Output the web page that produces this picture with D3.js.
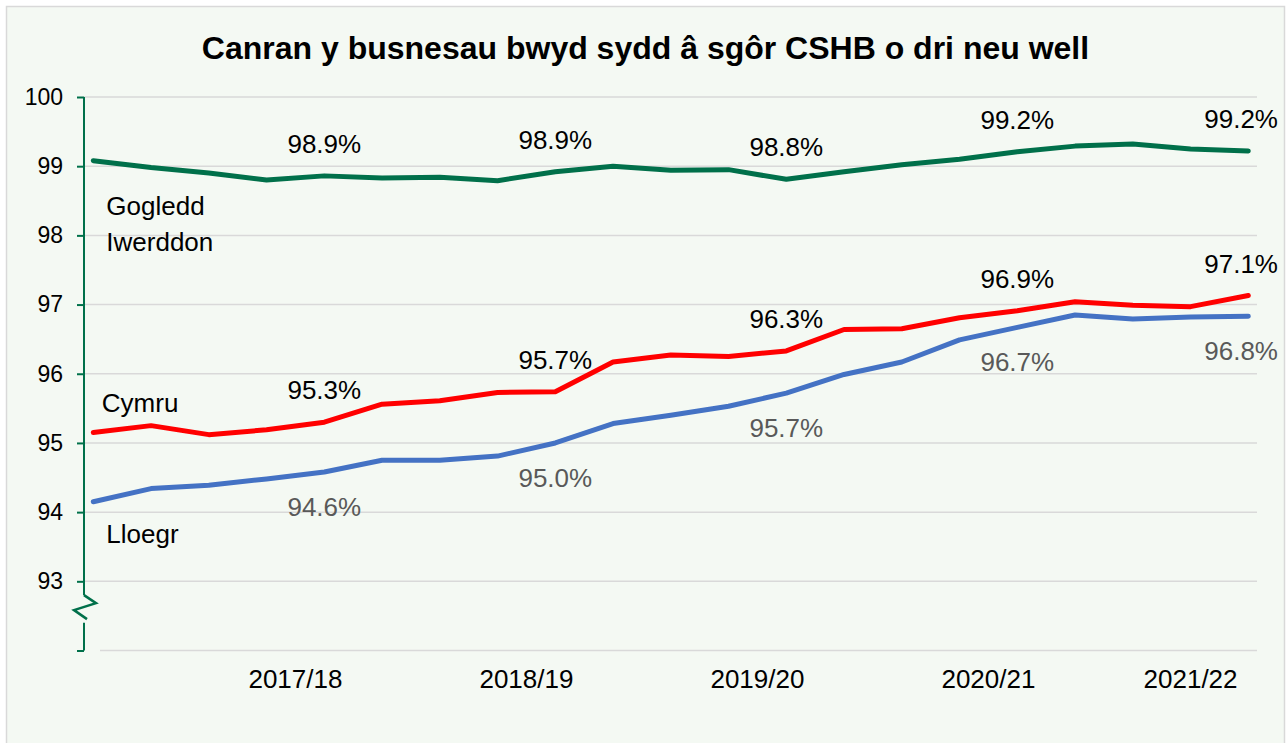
<!DOCTYPE html>
<html>
<head>
<meta charset="utf-8">
<script src="https://cdn.jsdelivr.net/npm/d3@7"></script>
<style>
  body { margin: 0; background: #fff; }
  svg text { font-family: "Liberation Sans", Arial, sans-serif; }
</style>
</head>
<body>
<svg id="chart"></svg>
<script>
const title = "Canran y busnesau bwyd sydd â sgôr CSHB o dri neu well";

const quarters = [
  "2016/17 Q3", "2016/17 Q4",
  "2017/18 Q1", "2017/18 Q2", "2017/18 Q3", "2017/18 Q4",
  "2018/19 Q1", "2018/19 Q2", "2018/19 Q3", "2018/19 Q4",
  "2019/20 Q1", "2019/20 Q2", "2019/20 Q3", "2019/20 Q4",
  "2020/21 Q1", "2020/21 Q2", "2020/21 Q3", "2020/21 Q4",
  "2021/22 Q1", "2021/22 Q2", "2021/22 Q3"
];
const yearLabels = ["2017/18", "2018/19", "2019/20", "2020/21", "2021/22"];

const northernIreland = [99.08, 98.98, 98.90, 98.80, 98.86, 98.83, 98.84, 98.79, 98.92, 99.00, 98.94,
  98.95, 98.81, 98.92, 99.02, 99.10, 99.21, 99.29, 99.32, 99.25, 99.22];
const wales = [95.15, 95.25, 95.12, 95.19, 95.30, 95.56, 95.61, 95.73, 95.74, 96.17, 96.27,
  96.25, 96.33, 96.64, 96.65, 96.81, 96.91, 97.04, 96.99, 96.97, 97.13];
const england = [94.15, 94.34, 94.39, 94.48, 94.58, 94.75, 94.75, 94.81, 95.00, 95.28, 95.40,
  95.53, 95.72, 95.99, 96.17, 96.49, 96.67, 96.85, 96.79, 96.82, 96.83];

const labelledPoints = [4, 8, 12, 16, 20];
const yTicks = [93, 94, 95, 96, 97, 98, 99, 100];

const width = 1287;
const height = 743;

const svg = d3.select("#chart").attr("width", width).attr("height", height);

// chart frame
svg.append("rect")
  .attr("x", 6.5).attr("y", 6.5)
  .attr("width", 1278).attr("height", 760)
  .attr("fill", "#f4f9f3")
  .attr("stroke", "#d9d9d9")
  .attr("stroke-width", 1.5);

svg.append("text")
  .attr("x", 645.5).attr("y", 59)
  .attr("text-anchor", "middle")
  .attr("font-size", 32)
  .attr("font-weight", "bold")
  .attr("fill", "#000")
  .text(title);

const xScale = d3.scalePoint().domain(quarters).range([93.3, 1248.3]);
const yScale = d3.scaleLinear().domain([92, 100]).range([650.5, 97]);

const plotLeft = 84;
const plotRight = 1257;
const green = "#00704a";

// gridlines
svg.append("g")
  .selectAll("line")
  .data(yTicks)
  .enter()
  .append("line")
  .attr("x1", plotLeft).attr("x2", plotRight)
  .attr("y1", (d) => yScale(d)).attr("y2", (d) => yScale(d))
  .attr("stroke", "#d9d9d9")
  .attr("stroke-width", 1.5);

svg.append("line")
  .attr("x1", 100).attr("x2", plotRight)
  .attr("y1", yScale(92)).attr("y2", yScale(92))
  .attr("stroke", "#d9d9d9")
  .attr("stroke-width", 1.5);

// y axis with break
const yAxis = d3.axisLeft(yScale)
  .tickValues([92].concat(yTicks))
  .tickSize(7)
  .tickFormat((d) => (d === 92 ? "" : d));

const yAxisG = svg.append("g")
  .attr("transform", `translate(${plotLeft}, 0)`)
  .call(yAxis);
yAxisG.select(".domain").remove();
yAxisG.selectAll(".tick line").attr("stroke", green).attr("stroke-width", 2);
yAxisG.selectAll(".tick text")
  .attr("x", -21)
  .attr("font-size", 23)
  .attr("font-family", "Liberation Sans, Arial, sans-serif")
  .attr("fill", "#000");

const breakTop = yScale(92.8);
const breakBottom = yScale(92.4);
svg.append("line")
  .attr("x1", plotLeft).attr("x2", plotLeft)
  .attr("y1", yScale(100)).attr("y2", breakTop)
  .attr("stroke", green).attr("stroke-width", 2);
svg.append("line")
  .attr("x1", plotLeft).attr("x2", plotLeft)
  .attr("y1", breakBottom).attr("y2", yScale(92))
  .attr("stroke", green).attr("stroke-width", 2);
svg.append("path")
  .attr("d", `M${plotLeft},${breakTop} L${plotLeft + 12},${breakTop + 8} L${plotLeft - 10},${breakTop + 15} L${plotLeft + 3},${breakTop + 24}`)
  .attr("fill", "none")
  .attr("stroke", green)
  .attr("stroke-width", 2.5);

// x labels centred on each year's quarters
svg.append("g")
  .selectAll("text")
  .data(yearLabels)
  .enter()
  .append("text")
  .attr("x", (yr) => d3.mean(quarters.filter((q) => q.startsWith(yr)), (q) => xScale(q)))
  .attr("y", 688)
  .attr("text-anchor", "middle")
  .attr("font-size", 26)
  .attr("fill", "#000")
  .text((d) => d);

const series = [
  { name: ["Gogledd", "Iwerddon"], values: northernIreland, color: green },
  { name: ["Cymru"], values: wales, color: "#ff0000" },
  { name: ["Lloegr"], values: england, color: "#4472c4" }
];

// label placement per series: [dx, dy of first line] from the first point, and data labels above/below
const nameOffsets = [[13, 54], [8.5, -21], [13, 41]];
const labelBelow = [false, false, true];

const line = d3.line()
  .x((d, i) => xScale(quarters[i]))
  .y((d) => yScale(d));

const fmt = d3.format(".1f");

series.forEach((s, si) => {
  svg.append("path")
    .datum(s.values)
    .attr("d", line)
    .attr("fill", "none")
    .attr("stroke", s.color)
    .attr("stroke-width", 5)
    .attr("stroke-linejoin", "round")
    .attr("stroke-linecap", "round");

  const nm = svg.append("text")
    .attr("x", xScale(quarters[0]) + nameOffsets[si][0])
    .attr("y", yScale(s.values[0]) + nameOffsets[si][1])
    .attr("font-size", 26)
    .attr("fill", "#000");
  s.name.forEach((t, k) => {
    nm.append("tspan")
      .attr("x", xScale(quarters[0]) + nameOffsets[si][0])
      .attr("dy", k === 0 ? 0 : 36.7)
      .text(t);
  });

  svg.append("g")
    .selectAll("text")
    .data(labelledPoints)
    .enter()
    .append("text")
    .attr("x", (i) => xScale(quarters[i]))
    .attr("y", (i) => yScale(s.values[i]) + (labelBelow[si] ? 44 : -23))
    .attr("text-anchor", "middle")
    .attr("font-size", 26)
    .attr("fill", labelBelow[si] ? "#595959" : "#000")
    .text((i) => fmt(s.values[i]) + "%")
    .each(function (i) {
      const w = this.getComputedTextLength();
      const x = xScale(quarters[i]);
      const maxX = width - 9 - w / 2;
      if (x > maxX) d3.select(this).attr("x", maxX);
    });
});
</script>
</body>
</html>
